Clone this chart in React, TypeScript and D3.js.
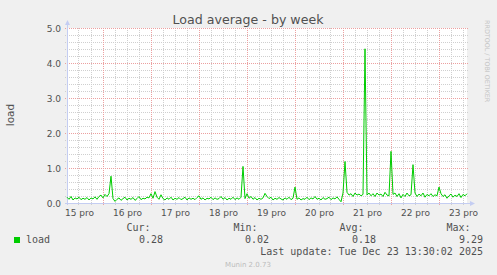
import React from "react";
import * as d3 from "d3";

const startTime = new Date(Date.UTC(2025, 11, 15, 6, 15));
const endTime = new Date(Date.UTC(2025, 11, 23, 14, 15));
const dayLabels = ["15 pro", "16 pro", "17 pro", "18 pro", "19 pro", "20 pro", "21 pro", "22 pro", "23 pro"];
const yTicks = [0, 1, 2, 3, 4, 5];
// hourly load values starting at startTime
const loadValues = [
  0.18, 0.12, 0.2, 0.1, 0.16, 0.13, 0.18, 0.11, 0.15, 0.12,
  0.17, 0.1, 0.16, 0.13, 0.19, 0.12, 0.2, 0.24, 0.16, 0.26,
  0.2, 0.28, 0.78, 0.14, 0.06, 0.12, 0.16, 0.09, 0.14, 0.18,
  0.1, 0.15, 0.12, 0.17, 0.09, 0.14, 0.2, 0.11, 0.15, 0.13,
  0.18, 0.16, 0.28, 0.15, 0.34, 0.18, 0.12, 0.25, 0.14, 0.1,
  0.16, 0.12, 0.18, 0.1, 0.15, 0.12, 0.17, 0.11, 0.14, 0.18,
  0.1, 0.16, 0.12, 0.15, 0.11, 0.17, 0.22, 0.12, 0.16, 0.1,
  0.15, 0.13, 0.18, 0.11, 0.16, 0.12, 0.14, 0.2, 0.12, 0.17,
  0.1, 0.15, 0.12, 0.18, 0.11, 0.16, 0.12, 0.18, 1.06, 0.14,
  0.28, 0.15, 0.2, 0.12, 0.17, 0.1, 0.15, 0.12, 0.16, 0.29,
  0.2, 0.14, 0.18, 0.1, 0.15, 0.12, 0.17, 0.13, 0.1, 0.16,
  0.12, 0.18, 0.11, 0.15, 0.47, 0.12, 0.16, 0.1, 0.14, 0.12,
  0.18, 0.11, 0.16, 0.13, 0.2, 0.12, 0.15, 0.1, 0.17, 0.12,
  0.14, 0.18, 0.11, 0.16, 0.13, 0.19, 0.12, 0.05, 0.3, 1.2,
  0.32, 0.24, 0.28, 0.2, 0.3, 0.24, 0.27, 0.22, 0.26, 4.42,
  0.24, 0.3, 0.22, 0.28, 0.2, 0.3, 0.24, 0.27, 0.2, 0.32,
  0.24, 0.22, 1.49, 0.26, 0.3, 0.2, 0.28, 0.16, 0.26, 0.2,
  0.3, 0.22, 0.25, 1.11, 0.3, 0.2, 0.27, 0.22, 0.3, 0.18,
  0.26, 0.22, 0.28, 0.2, 0.25, 0.22, 0.47, 0.28, 0.2, 0.25,
  0.15, 0.22, 0.27, 0.18, 0.24, 0.2, 0.28, 0.17, 0.26, 0.22,
  0.28,
];
const legendHeaders = ["Cur:", "Min:", "Avg:", "Max:"];
const legendValues = ["0.28", "0.02", "0.18", "9.29"];

const W = 497;
const H = 275;
const left = 67;
const right = 467;
const top = 28;
const bottom = 203;

export default function App() {
  const x = d3.scaleUtc().domain([startTime, endTime]).range([left, right]);
  const y = d3.scaleLinear().domain([0, 5]).range([bottom + 0.5, top + 0.5]);

  const minorX = d3.utcHour.every(6)!.range(startTime, endTime);
  const majorX = d3.utcDay.range(startTime, endTime);
  const labelDays = d3.utcDay.range(d3.utcDay.floor(startTime), endTime).map((d) => d3.utcHour.offset(d, 12));
  const minorY = d3.range(0, 5.001, 0.2);

  const data = loadValues.map((v, i) => ({ t: d3.utcHour.offset(startTime, i), v }));
  const line = d3
    .line<{ t: Date; v: number }>()
    .x((d) => x(d.t))
    .y((d) => y(d.v));

  const gray = "#505050";
  const axisCol = "#c4cdf2";
  const legendX = [150, 257, 363, 470];
  const valueX = [163, 269, 376, 483];

  return (
    <svg width={W} height={H} style={{ position: "fixed", left: 0, top: 0 }} fontFamily="DejaVu Sans">
      <rect x={0} y={0} width={W} height={H} fill="#f0f0f0" />
      <rect x={left} y={top} width={right - left} height={bottom - top + 1} fill="#ffffff" />
      {/* minor grid */}
      {minorX.map((d, i) => (
        <line key={"mx" + i} x1={Math.round(x(d)) + 0.5} x2={Math.round(x(d)) + 0.5} y1={top} y2={bottom + 2} stroke="#cfcfcf" strokeDasharray="1,1" />
      ))}
      {minorY.map((v, i) => (
        <line key={"my" + i} x1={left - 2} x2={right + 1} y1={Math.round(y(v) - 0.5) + 0.5} y2={Math.round(y(v) - 0.5) + 0.5} stroke="#cfcfcf" strokeDasharray="1,1" />
      ))}
      {/* major grid */}
      {majorX.map((d, i) => (
        <line key={"Mx" + i} x1={Math.round(x(d)) + 0.5} x2={Math.round(x(d)) + 0.5} y1={top} y2={bottom + 2} stroke="#eca0a0" strokeDasharray="1,1" />
      ))}
      {yTicks.map((v, i) => (
        <line key={"My" + i} x1={left - 2} x2={right + 1} y1={Math.round(y(v) - 0.5) + 0.5} y2={Math.round(y(v) - 0.5) + 0.5} stroke="#eca0a0" strokeDasharray="1,1" />
      ))}
      {/* axes */}
      <line x1={left + 0.5} x2={left + 0.5} y1={bottom + 2} y2={top - 4} stroke={axisCol} />
      <path d={`M${left - 2},${top - 3} L${left + 3},${top - 3} L${left + 0.5},${top - 8} Z`} fill={axisCol} />
      <line x1={left - 2} x2={right + 4} y1={bottom + 0.5} y2={bottom + 0.5} stroke={axisCol} />
      <path d={`M${right + 3},${bottom - 2} L${right + 3},${bottom + 3} L${right + 8},${bottom + 0.5} Z`} fill={axisCol} />
      {/* data */}
      <path d={line(data) || ""} fill="none" stroke="#00cc00" strokeWidth={1} />
      {/* y tick labels */}
      {yTicks.map((v, i) => (
        <text key={"yt" + i} x={61} y={y(v) + 3.3} fontSize={9} fill={gray} textAnchor="end">
          {v.toFixed(1)}
        </text>
      ))}
      {/* x labels */}
      {labelDays.map((d, i) => (
        <text key={"xl" + i} x={x(d) + 1} y={216} fontSize={9} fill={gray} textAnchor="middle">
          {dayLabels[i]}
        </text>
      ))}
      {/* title */}
      <text x={248} y={24} fontSize={12.6} fill={gray} textAnchor="middle">
        Load average - by week
      </text>
      {/* y label */}
      <text transform="translate(13.8,115) rotate(-90)" fontSize={10.5} fill={gray} textAnchor="middle">
        load
      </text>
      {/* watermark */}
      <text transform="translate(485,20) rotate(90)" fontSize={6.4} fill="#c4c4c4">
        RRDTOOL / TOBI OETIKER
      </text>
      {/* legend */}
      <g fontFamily="DejaVu Sans Mono" fontSize={10} fill={gray}>
        {legendHeaders.map((h, i) => (
          <text key={"lh" + i} x={legendX[i] + 0.5} y={231} textAnchor="end">
            {h}
          </text>
        ))}
        <rect x={14} y={237} width={6} height={6} fill="#00cc00" />
        <text x={26} y={243}>load</text>
        {legendValues.map((v, i) => (
          <text key={"lv" + i} x={valueX[i]} y={243} textAnchor="end">
            {v}
          </text>
        ))}
        <text x={483} y={255} textAnchor="end">
          Last update: Tue Dec 23 13:30:02 2025
        </text>
      </g>
      <text x={248} y={267} fontSize={7} fill="#bcbcbc" textAnchor="middle">
        Munin 2.0.73
      </text>
    </svg>
  );
}
